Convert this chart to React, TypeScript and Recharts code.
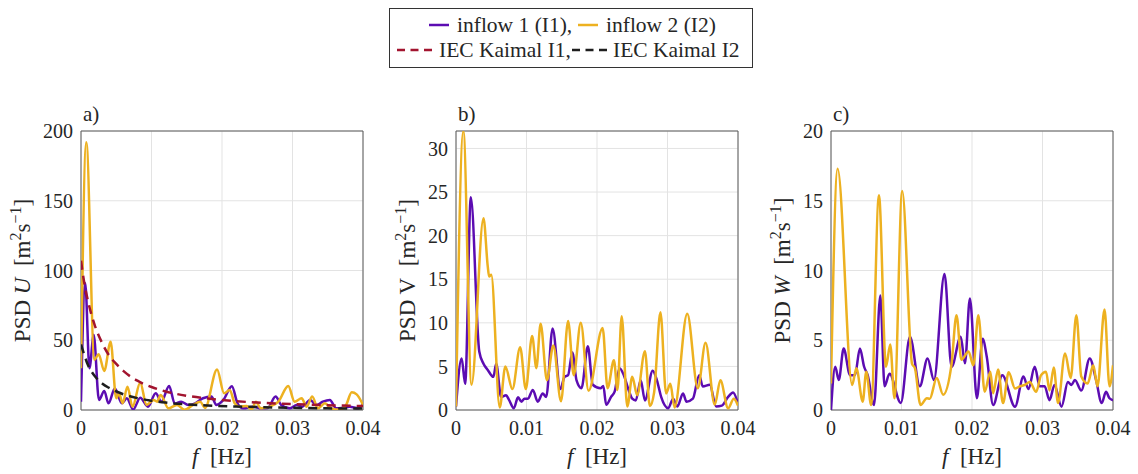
import { LineChart, Line, XAxis, YAxis, CartesianGrid, ReferenceArea, Label } from 'recharts'

const FONT = '"Liberation Serif", Tinos, "Times New Roman", Times, "DejaVu Serif", serif'
const INK = '#262626'
const C1 = '#5c0cb2'
const C2 = '#edb120'
const CK1 = '#a2142f'
const CK2 = '#1e1e1e'

type Pt = [number, number]

const freqTicks = [0, 0.01, 0.02, 0.03, 0.04]
const uTicks = [0, 50, 100, 150, 200]
const vTicks = [0, 5, 10, 15, 20, 25, 30]
const wTicks = [0, 5, 10, 15, 20]

// a) PSD U  [f (Hz), PSD]
const uInflow1: Pt[] = [
  [0, 6], [0.0006, 91], [0.0012, 30], [0.0018, 54], [0.00255, 7.2], [0.0033, 13.6], [0.0039, 4.8],
  [0.0048, 15.5], [0.0058, 4.8], [0.0065, 8.4], [0.0074, 0.3], [0.0084, 8.8], [0.0095, 2.4],
  [0.0106, 12], [0.0114, 6], [0.0125, 17.2], [0.0133, 4.5], [0.0142, 6], [0.0152, 3.6], [0.0162, 4.8],
  [0.0173, 8.4], [0.0185, 9.6], [0.0192, 3.6], [0.0202, 7.2], [0.0214, 17], [0.0222, 4.8], [0.023, 1.2],
  [0.0244, 2.4], [0.0256, 1.2], [0.0265, 1.5], [0.0276, 9.6], [0.0284, 3.6], [0.0296, 1.2], [0.0306, 3.6],
  [0.0314, 2.4], [0.0325, 7.2], [0.0334, 3.6], [0.0343, 6], [0.0353, 7.2], [0.0362, 1.2], [0.037, 1.5],
  [0.0381, 2.4], [0.0393, 1.2], [0.04, 4.3],
]
const uInflow2: Pt[] = [
  [0, 30], [0.00075, 192], [0.0019, 36], [0.0025, 40], [0.0033, 28], [0.0042, 49], [0.005, 8.4],
  [0.0054, 12], [0.0059, 4.8], [0.0066, 16.7], [0.0073, 2.4], [0.0084, 19.6], [0.0093, 3.6],
  [0.0103, 7.2], [0.0108, 6], [0.0113, 10.8], [0.0124, 1.2], [0.0136, 3.6], [0.0147, 0.2], [0.0159, 3.6],
  [0.0169, 6], [0.0176, 1.5], [0.0193, 29], [0.0203, 12], [0.0211, 14.3], [0.0218, 4.8], [0.0225, 2.4],
  [0.0235, 2.9], [0.0242, 0.3], [0.0248, 6], [0.0255, 1.2], [0.0268, 2.4], [0.028, 6], [0.0294, 17.2],
  [0.0303, 6], [0.0313, 8.4], [0.032, 2.4], [0.0328, 9.6], [0.0336, 1.2], [0.0346, 4.8], [0.0355, 1.2],
  [0.0367, 0.2], [0.0376, 3.6], [0.0384, 12.7], [0.0391, 11.2], [0.04, 3.6],
]
const uKaimal1: Pt[] = [
  [0, 107], [0.0005, 90], [0.001, 78], [0.0015, 68], [0.002, 60], [0.003, 48], [0.004, 39], [0.005, 33],
  [0.006, 28], [0.008, 21], [0.01, 16.5], [0.012, 13.3], [0.015, 10.2], [0.018, 8.2], [0.022, 6.3],
  [0.026, 5.1], [0.03, 4.2], [0.035, 3.4], [0.04, 2.8],
]
const uKaimal2: Pt[] = [
  [0, 47], [0.0005, 39], [0.001, 32], [0.0015, 27.5], [0.002, 24], [0.003, 19], [0.004, 15.8],
  [0.005, 13.3], [0.006, 11.3], [0.008, 8.5], [0.01, 6.7], [0.012, 5.3], [0.015, 4], [0.018, 3.2],
  [0.022, 2.5], [0.026, 2], [0.03, 1.6], [0.035, 1.2], [0.04, 1],
]

// b) PSD V
const vInflow1: Pt[] = [
  [0, 0.4], [0.0008, 5.9], [0.0013, 3], [0.0021, 24.4], [0.0033, 6.7], [0.0039, 5.3], [0.0045, 4.6],
  [0.0053, 3.8], [0.0057, 5.3], [0.0064, 1.5], [0.0071, 1.7], [0.0075, 1.2], [0.0082, 0.2], [0.0088, 1.45],
  [0.0093, 0.95], [0.0097, 1.3], [0.0102, 1.3], [0.0109, 2.3], [0.0116, 0.95], [0.0123, 1.9], [0.0128, 1.5],
  [0.0137, 9.35], [0.0148, 2.4], [0.0154, 3.8], [0.0159, 4], [0.0165, 6.6], [0.0171, 3.4], [0.0178, 2.5],
  [0.0187, 7.3], [0.0194, 2.9], [0.0205, 2.5], [0.0209, 2.75], [0.0213, 0.6], [0.022, 1.5], [0.0225, 2.1],
  [0.0232, 4.8], [0.0238, 4], [0.0244, 2.5], [0.025, 1.3], [0.0255, 1.1], [0.0262, 3.4], [0.0268, 1.1],
  [0.0279, 4.5], [0.0285, 3.4], [0.0291, 1.5], [0.0301, 0.2], [0.0308, 1.3], [0.0314, 0.4], [0.0322, 1.9],
  [0.0327, 0.95], [0.0336, 1.3], [0.0345, 4], [0.035, 2.7], [0.036, 2.9], [0.0369, 0.4], [0.0377, 0.5],
  [0.0386, 1.5], [0.0393, 2], [0.04, 0.7],
]
const vInflow2: Pt[] = [
  [0, 0.4], [0.00104, 32], [0.0022, 2.9], [0.0039, 22], [0.0045, 16.5], [0.0047, 15.3], [0.005, 15.5],
  [0.0062, 0.3], [0.007, 5], [0.008, 2.4], [0.0091, 7.2], [0.0099, 2.4], [0.0108, 8.5], [0.0114, 4.8],
  [0.012, 9.9], [0.0129, 3.4], [0.0138, 7.4], [0.0149, 1], [0.0159, 10.2], [0.0167, 4], [0.0177, 10],
  [0.0188, 2.2], [0.0208, 9.4], [0.0215, 2.5], [0.0224, 5.7], [0.0229, 2.3], [0.0235, 10.75], [0.0243, 0.4],
  [0.025, 3.8], [0.0257, 1.7], [0.0268, 6.75], [0.0275, 0.45], [0.0281, 2], [0.029, 11.2], [0.0298, 1.9],
  [0.0304, 3], [0.031, 0.3], [0.0328, 11.05], [0.0343, 2.5], [0.0354, 7.7], [0.0367, 0.6], [0.0375, 3.4],
  [0.0386, 0.2], [0.0394, 1.3], [0.04, 0.5],
]

// c) PSD W
const wInflow1: Pt[] = [
  [0, 0], [0.0006, 3.1], [0.0011, 2.15], [0.0018, 4.4], [0.0027, 2.5], [0.0034, 2.5], [0.0041, 4.4],
  [0.0047, 3.1], [0.0052, 2.5], [0.0061, 0.36], [0.007, 8.2], [0.0076, 1.7], [0.0083, 2.6], [0.0099, 0.5],
  [0.0112, 5.25], [0.0126, 1.7], [0.0137, 3.7], [0.0146, 2.15], [0.0161, 9.75], [0.0171, 3.1], [0.0184, 5.25],
  [0.019, 3.35], [0.0197, 8], [0.0207, 0.84], [0.0215, 5.1], [0.0221, 3.8], [0.023, 0.36], [0.0243, 2.5],
  [0.0261, 0.24], [0.0273, 2.4], [0.028, 1.5], [0.0289, 3.1], [0.0296, 1.7], [0.0303, 1.7], [0.031, 0.7],
  [0.0317, 1.8], [0.0327, 0.24], [0.0336, 2], [0.0341, 1.8], [0.0346, 2.15], [0.0355, 1.4], [0.0367, 3.7],
  [0.0376, 2.15], [0.0384, 0.5], [0.039, 1.3], [0.0395, 0.84], [0.04, 0.7],
]
const wInflow2: Pt[] = [
  [0, 1.9], [0.00094, 17.3], [0.003, 1.8], [0.0036, 3], [0.0045, 0.6], [0.005, 2.75], [0.0057, 0.36],
  [0.0068, 15.4], [0.0078, 3.1], [0.0084, 4.7], [0.009, 0.84], [0.0101, 15.7], [0.0115, 3.3], [0.0119, 3],
  [0.0127, 0.36], [0.0136, 0.84], [0.014, 0.8], [0.015, 2.3], [0.0159, 1.1], [0.0171, 3.3], [0.0178, 6.8],
  [0.0185, 3.6], [0.0195, 4.2], [0.0202, 3.2], [0.0209, 6.8], [0.0218, 1.3], [0.0226, 2.75], [0.023, 1.2],
  [0.0237, 2.9], [0.0244, 0.5], [0.0252, 2.7], [0.0261, 1.55], [0.0268, 1.7], [0.0275, 1.8], [0.0282, 2],
  [0.0291, 1.3], [0.0298, 2.5], [0.0305, 2.75], [0.031, 1.4], [0.0316, 3.05], [0.0322, 0.5], [0.0332, 4.05],
  [0.034, 2.3], [0.0348, 6.8], [0.0355, 2.4], [0.0364, 1.9], [0.0372, 3.2], [0.0378, 1.7], [0.0388, 7.2],
  [0.0395, 1.7], [0.04, 3.2],
]

const toRows = (pts: Pt[]) => pts.map(([f, v]) => ({ f, v }))

const PLOT_W = 282
const AXIS_W = 80
const RIGHT_PAD = 28

type PanelProps = {
  left: number
  tag: string
  sym: string
  italic: boolean
  yMax: number
  yTicks: number[]
  labelGap: number
  s1: Pt[]
  s2: Pt[]
  k1?: Pt[]
  k2?: Pt[]
}

function Panel({ left, tag, sym, italic, yMax, yTicks, labelGap, s1, s2, k1, k2 }: PanelProps) {
  const tickStyle = { fill: INK, fontSize: 20, fontFamily: FONT }
  return (
    <div style={{ position: 'absolute', left: left - AXIS_W, top: 0 }}>
      <LineChart width={AXIS_W + PLOT_W + RIGHT_PAD} height={474} margin={{ top: 131, right: RIGHT_PAD, bottom: 34, left: 0 }}>
        <CartesianGrid stroke="#e3e3e3" strokeWidth={1} />
        <XAxis
          dataKey="f" type="number" domain={[0, 0.04]} ticks={freqTicks} allowDataOverflow interval={0}
          axisLine={false} tickLine={false} tickSize={0} tickMargin={11} height={30} tick={tickStyle}
        >
          <Label
            content={(p: any) => {
              const vb = p.viewBox
              return (
                <text x={vb.x + vb.width / 2} y={464} textAnchor="middle" fontFamily={FONT} fontSize={23} fill={INK}>
                  <tspan fontStyle="italic">f</tspan>
                  <tspan>{'\u00a0\u00a0[Hz]'}</tspan>
                </text>
              )
            }}
          />
        </XAxis>
        <YAxis
          type="number" domain={[0, yMax]} ticks={yTicks} allowDataOverflow interval={0}
          axisLine={false} tickLine={false} tickSize={0} tickMargin={8} width={AXIS_W} tick={tickStyle}
        >
          <Label
            content={(p: any) => {
              const vb = p.viewBox
              const bx = vb.x + vb.width - labelGap
              const cy = vb.y + vb.height / 2
              return (
                <g>
                  <text x={bx} y={cy} transform={`rotate(-90, ${bx}, ${cy})`} textAnchor="middle"
                    fontFamily={FONT} fontSize={23} fill={INK}>
                    <tspan>{'PSD '}</tspan>
                    <tspan fontStyle={italic ? 'italic' : 'normal'}>{sym}</tspan>
                    <tspan>{'\u00a0\u00a0[m'}</tspan>
                    <tspan dy={-9} fontSize={16}>2</tspan>
                    <tspan dy={9}>s</tspan>
                    <tspan dy={-9} fontSize={16}>{'\u22121'}</tspan>
                    <tspan dy={9}>]</tspan>
                  </text>
                  <text x={vb.x + vb.width + 2} y={121} fontFamily={FONT} fontSize={21} fill={INK}>{tag}</text>
                </g>
              )
            }}
          />
        </YAxis>
        <ReferenceArea x1={0} x2={0.04} y1={0} y2={yMax} fill="none" fillOpacity={0} stroke="#5a5a5a" strokeWidth={1} />
        <Line data={toRows(s1)} dataKey="v" type="monotone" stroke={C1} strokeWidth={2.5} dot={false} isAnimationActive={false} />
        <Line data={toRows(s2)} dataKey="v" type="monotone" stroke={C2} strokeWidth={2.5} dot={false} isAnimationActive={false} />
        {k1 && (
          <Line data={toRows(k1)} dataKey="v" type="monotone" stroke={CK1} strokeWidth={2.5} strokeDasharray="9 6" dot={false} isAnimationActive={false} />
        )}
        {k2 && (
          <Line data={toRows(k2)} dataKey="v" type="monotone" stroke={CK2} strokeWidth={2.5} strokeDasharray="9 6" dot={false} isAnimationActive={false} />
        )}
      </LineChart>
    </div>
  )
}

function LegendBox() {
  const txt = { fontSize: 21.5, fill: INK, fontFamily: FONT }
  return (
    <svg width={365} height={61} style={{ position: 'absolute', left: 389, top: 8 }}>
      <rect x={0.5} y={0.5} width={363} height={59} fill="#fff" stroke="#333" strokeWidth={1} />
      <line x1={40} x2={60} y1={17} y2={17} stroke={C1} strokeWidth={2.5} />
      <text x={68} y={24} {...txt}>inflow 1 (I1),</text>
      <line x1={189} x2={209} y1={17} y2={17} stroke={C2} strokeWidth={2.5} />
      <text x={217} y={24} {...txt}>inflow 2 (I2)</text>
      <line x1={8} x2={43} y1={42} y2={42} stroke={CK1} strokeWidth={2.5} strokeDasharray="8 5.5" />
      <text x={50} y={49} {...txt}>IEC Kaimal I1,</text>
      <line x1={183} x2={218} y1={42} y2={42} stroke={CK2} strokeWidth={2.5} strokeDasharray="8 5.5" />
      <text x={224} y={49} {...txt}>IEC Kaimal I2</text>
    </svg>
  )
}

export default function App() {
  return (
    <div style={{ position: 'absolute', left: 0, top: 0, width: 1138, height: 474, background: '#fff' }}>
      <Panel left={81} tag="a)" sym="U" italic yMax={200} yTicks={uTicks} labelGap={51}
        s1={uInflow1} s2={uInflow2} k1={uKaimal1} k2={uKaimal2} />
      <Panel left={456} tag="b)" sym="V" italic={false} yMax={32} yTicks={vTicks} labelGap={41}
        s1={vInflow1} s2={vInflow2} />
      <Panel left={831} tag="c)" sym="W" italic yMax={20} yTicks={wTicks} labelGap={41}
        s1={wInflow1} s2={wInflow2} />
      <LegendBox />
    </div>
  )
}
